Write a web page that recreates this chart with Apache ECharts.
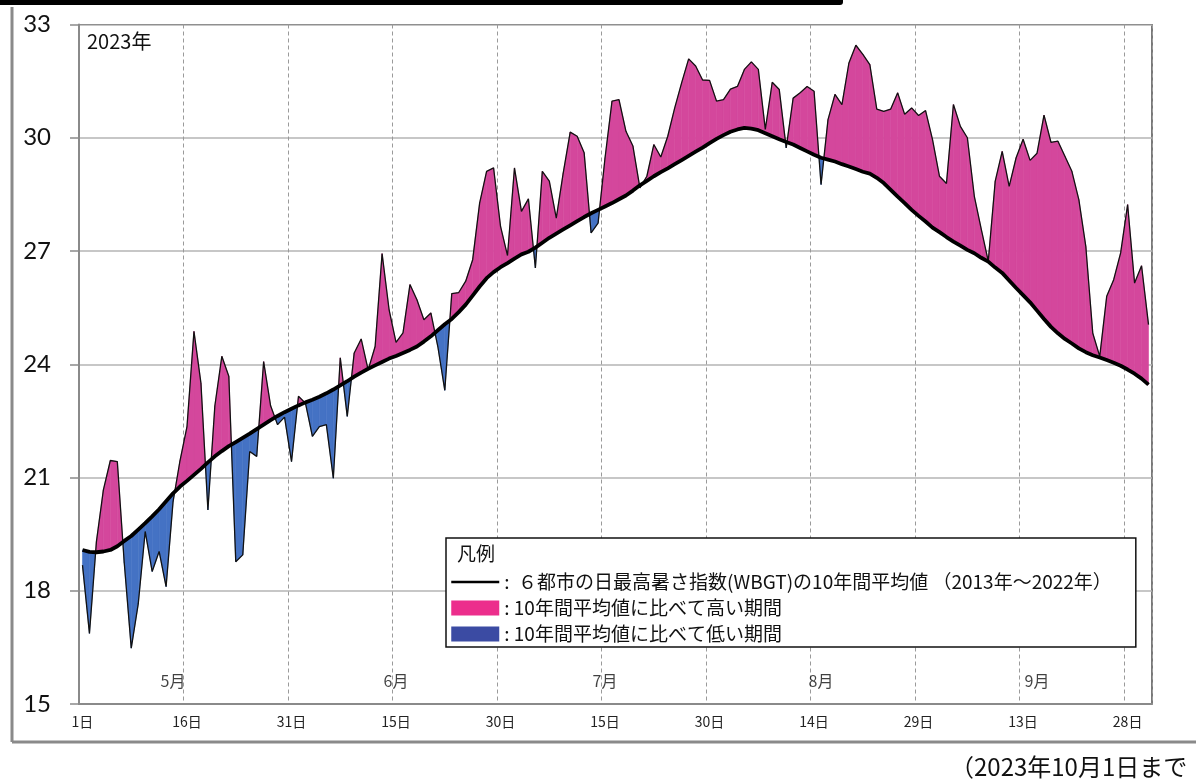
<!DOCTYPE html>
<html><head><meta charset="utf-8">
<script src="https://cdn.jsdelivr.net/npm/echarts@6/dist/echarts.min.js"></script>
<style>html,body{margin:0;padding:0;background:#fff}#c{width:1196px;height:782px}</style>
</head><body><div id="c"></div><script>
// Days: 1 May 2023 – 1 Oct 2023
const monthLengths = [[5, 31], [6, 30], [7, 31], [8, 31], [9, 30], [10, 1]];
const categories = [];
monthLengths.forEach(([m, n]) => { for (let d = 1; d <= n; d++) categories.push(m + '/' + d); });

const xTickLabels = ['1日', '16日', '31日', '15日', '30日', '15日', '30日', '14日', '29日', '13日', '28日'];
const monthLabels = ['5月', '6月', '7月', '8月', '9月'];
const monthLabelAt = ['5/14', '6/15', '7/15', '8/15', '9/15'];

const avgName = '６都市の日最高暑さ指数(WBGT)の10年間平均値 （2013年～2022年）';
const highName = '10年間平均値に比べて高い期間';
const lowName = '10年間平均値に比べて低い期間';

// 10-year average (2013–2022) of daily max WBGT, 6 cities
const avg10y = [
  19.08, 19.03, 19.02, 19.04, 19.08, 19.18, 19.32, 19.45, 19.62, 19.79,
  19.97, 20.16, 20.37, 20.58, 20.76, 20.91, 21.07, 21.23, 21.40, 21.56,
  21.70, 21.83, 21.94, 22.05, 22.16, 22.28, 22.40, 22.52, 22.63, 22.73,
  22.82, 22.91, 22.99, 23.06, 23.14, 23.23, 23.33, 23.44, 23.55, 23.67,
  23.78, 23.88, 23.97, 24.06, 24.15, 24.22, 24.30, 24.38, 24.47, 24.60,
  24.74, 24.90, 25.06, 25.20, 25.38, 25.58, 25.82, 26.06, 26.28, 26.44,
  26.57, 26.68, 26.80, 26.91, 26.98, 27.09, 27.22, 27.35, 27.46, 27.57,
  27.68, 27.79, 27.90, 28.00, 28.09, 28.18, 28.27, 28.37, 28.47, 28.60,
  28.74, 28.86, 28.98, 29.09, 29.19, 29.30, 29.41, 29.52, 29.63, 29.74,
  29.86, 29.97, 30.07, 30.16, 30.22, 30.26, 30.24, 30.20, 30.12, 30.04,
  29.96, 29.89, 29.82, 29.73, 29.64, 29.55, 29.47, 29.42, 29.37, 29.30,
  29.24, 29.17, 29.10, 29.05, 28.94, 28.80, 28.62, 28.44, 28.27, 28.09,
  27.93, 27.78, 27.62, 27.50, 27.37, 27.25, 27.14, 27.03, 26.94, 26.82,
  26.72, 26.56, 26.42, 26.22, 26.02, 25.83, 25.64, 25.42, 25.20, 24.99,
  24.82, 24.67, 24.55, 24.42, 24.32, 24.24, 24.18, 24.11, 24.04, 23.96,
  23.86, 23.75, 23.62, 23.46
];

// 2023 daily max WBGT, 6-city mean
const wbgt2023 = [
  18.68, 16.87, 19.30, 20.67, 21.45, 21.42, 18.73, 16.48, 17.65, 19.57,
  18.51, 19.04, 18.11, 20.36, 21.45, 22.35, 24.87, 23.50, 20.14, 22.90,
  24.21, 23.68, 18.77, 18.95, 21.69, 21.56, 24.07, 22.90, 22.40, 22.60,
  21.42, 23.15, 22.97, 22.09, 22.35, 22.40, 20.98, 24.17, 22.62, 24.30,
  24.67, 23.85, 24.47, 26.93, 25.45, 24.58, 24.83, 26.11, 25.71, 25.18,
  25.36, 24.47, 23.31, 25.87, 25.90, 26.20, 26.77, 28.27, 29.11, 29.20,
  27.65, 26.88, 29.20, 28.05, 28.38, 26.55, 29.11, 28.85, 27.87, 29.07,
  30.15, 30.04, 29.60, 27.48, 27.74, 29.47, 30.97, 31.01, 30.17, 29.78,
  28.67, 28.98, 29.82, 29.49, 30.04, 30.79, 31.46, 32.09, 31.90, 31.53,
  31.52, 30.97, 31.01, 31.29, 31.36, 31.81, 32.01, 31.81, 30.22, 31.47,
  31.28, 29.73, 31.05, 31.19, 31.36, 31.23, 28.76, 30.48, 31.15, 30.88,
  31.98, 32.45, 32.21, 31.94, 30.76, 30.70, 30.76, 31.19, 30.62, 30.79,
  30.59, 30.72, 29.95, 28.98, 28.79, 30.88, 30.30, 30.00, 28.45, 27.57,
  26.73, 28.85, 29.64, 28.71, 29.47, 29.96, 29.40, 29.59, 30.60, 29.88,
  29.91, 29.51, 29.11, 28.36, 27.12, 24.82, 24.21, 25.80, 26.24, 26.95,
  28.23, 26.15, 26.61, 25.05
];

// segment records for the filled areas: [index, actual0, avg0, actual1, avg1]
const segments = [];
for (let i = 0; i < wbgt2023.length - 1; i++) {
  segments.push([i, wbgt2023[i], avg10y[i], wbgt2023[i + 1], avg10y[i + 1]]);
}

function lerp(p, q, t) { return [p[0] + (q[0] - p[0]) * t, p[1] + (q[1] - p[1]) * t]; }

function diffArea(name, color, sign) {
  return {
    name: name, type: 'custom', coordinateSystem: 'cartesian2d', clip: true, silent: true, z: 2,
    itemStyle: { color: color },
    encode: { x: 0, y: [1, 2] },
    data: segments,
    renderItem: function (params, api) {
      const i = api.value(0);
      const a0 = api.value(1), m0 = api.value(2), a1 = api.value(3), m1 = api.value(4);
      const e0 = sign * (a0 - m0), e1 = sign * (a1 - m1);
      const A0 = api.coord([i, a0]), M0 = api.coord([i, m0]);
      const A1 = api.coord([i + 1, a1]), M1 = api.coord([i + 1, m1]);
      let pts = null;
      if (e0 >= 0 && e1 >= 0) {
        if (e0 === 0 && e1 === 0) return null;
        pts = [A0, A1, M1, M0];
      } else if (e0 > 0 && e1 < 0) {
        const t = e0 / (e0 - e1);
        pts = [A0, lerp(A0, A1, t), M0];
      } else if (e0 < 0 && e1 > 0) {
        const t = e0 / (e0 - e1);
        pts = [lerp(A0, A1, t), A1, M1];
      } else {
        return null;
      }
      return { type: 'polygon', shape: { points: pts }, style: { fill: color, stroke: color, lineWidth: 0.6 } };
    }
  };
}

const chart = echarts.init(document.getElementById('c'));
const cjk = '"Noto Sans CJK JP", sans-serif';

chart.setOption({
  animation: false,
  backgroundColor: '#fff',
  grid: { left: 79, top: 24.5, right: 44, bottom: 78, show: true, borderColor: '#222', borderWidth: 1.2, backgroundColor: 'transparent' },
  xAxis: {
    type: 'category', data: categories, boundaryGap: true,
    axisLine: { lineStyle: { color: '#8a8a8a', width: 2 } },
    axisTick: { interval: 14, length: 8, lineStyle: { color: '#8a8a8a', width: 1.5 } },
    axisLabel: {
      interval: 14, margin: 11, fontSize: 14, color: '#222', fontFamily: cjk,
      formatter: function (v, idx) { return xTickLabels[Math.round(idx / 15)]; }
    },
    splitLine: { show: true, interval: 14, lineStyle: { color: '#9a9a9a', width: 1, type: [4, 3] } }
  },
  yAxis: {
    type: 'value', min: 15, max: 33, interval: 3,
    axisLine: { show: true, lineStyle: { color: '#8a8a8a', width: 2 } },
    axisTick: { show: true, length: 9, lineStyle: { color: '#8a8a8a', width: 1.5 } },
    axisLabel: { fontSize: 24, color: '#111', margin: 28, fontFamily: 'Lato, "Open Sans", sans-serif' },
    splitLine: { show: true, lineStyle: { color: '#b4b4b4', width: 1.5 } }
  },
  legend: {
    left: 446, top: 538, orient: 'vertical',
    itemWidth: 48, itemHeight: 15, itemGap: 6,
    padding: [34, 24, 3, 4],
    borderColor: '#111', borderWidth: 1.5, backgroundColor: '#fff',
    selectedMode: false,
    textStyle: { fontFamily: cjk, fontSize: 19, color: '#111', lineHeight: 20 },
    formatter: function (n) { return n === avgName ? ':  ' + n : ': ' + n; },
    data: [
      { name: avgName, itemStyle: { opacity: 0, borderWidth: 0 }, lineStyle: { color: '#000', width: 2.5 } },
      { name: highName, icon: 'rect', itemStyle: { color: '#EC2E8C' } },
      { name: lowName, icon: 'rect', itemStyle: { color: '#3B4BA3' } }
    ]
  },
  graphic: [
    { type: 'rect', left: 0, top: 0, shape: { width: 843, height: 5, r: [0, 0, 3, 0] }, style: { fill: '#000' }, z: 100 },
    { type: 'line', shape: { x1: 12, y1: 7, x2: 12, y2: 742 }, style: { stroke: '#8a8a8a', lineWidth: 3 }, z: 100 },
    { type: 'line', shape: { x1: 12, y1: 742, x2: 1196, y2: 742 }, style: { stroke: '#8a8a8a', lineWidth: 3 }, z: 100 },
    { type: 'text', left: 87, top: 31, style: { text: '2023年', font: '20px ' + cjk, fill: '#111' }, z: 100 },
    { type: 'text', left: 457, top: 544, style: { text: '凡例', font: '19px ' + cjk, fill: '#111' }, z: 100 },
    { type: 'text', left: 950, top: 755, style: { text: '（2023年10月1日まで', font: '24px ' + cjk, fill: '#111' }, z: 100 }
  ],
  series: [
    diffArea(highName, '#D4479C', 1),
    diffArea(lowName, '#4472C4', -1),
    {
      name: '2023年', type: 'line', data: wbgt2023, symbol: 'none', silent: true, z: 3,
      lineStyle: { color: '#111', width: 1.3 }
    },
    {
      name: avgName, type: 'line', data: avg10y, symbol: 'none', silent: true, z: 4,
      itemStyle: { color: '#000' },
      lineStyle: { color: '#000', width: 3.8 }
    },
    {
      name: 'months', type: 'scatter', symbolSize: 0, silent: true, z: 5,
      data: monthLabelAt.map(function (c, k) { return [c, 15.6, monthLabels[k]]; }),
      label: { show: true, position: 'inside', formatter: function (p) { return p.data[2]; }, fontSize: 16, color: '#111', fontFamily: cjk }
    }
  ]
});
</script></body></html>
